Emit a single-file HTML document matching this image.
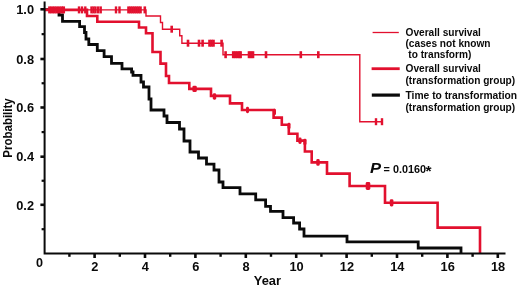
<!DOCTYPE html>
<html><head><meta charset="utf-8"><title>Survival plot</title>
<style>
html,body{margin:0;padding:0;background:#fff;}
body{width:520px;height:291px;overflow:hidden;}
svg{display:block;filter:blur(0.4px);}
svg text{font-family:"Liberation Sans",sans-serif;font-weight:bold;fill:#0a0a0a;}
</style></head>
<body>
<svg width="520" height="291" viewBox="0 0 520 291">
<rect width="520" height="291" fill="#fff"/>
<g>
<polyline points="44.6,9.6 59,9.6 59,15 62.5,15 62.5,21.4 79.6,21.4 79.6,26.6 84.5,26.6 84.5,32.5 86,32.5 86,39 88.8,39 88.8,44.5 97.3,44.5 97.3,50.6 104.1,50.6 104.1,56.7 111.5,56.7 111.5,63.3 122,63.3 122,68.8 131.6,68.8 131.6,72 133,72 133,75.3 141,75.3 141,82 143.5,82 143.5,87 149,87 149,99 151,99 151,110 164,110 164,116 167,116 167,122.5 179.5,122.5 179.5,129 184,129 184,141 190,141 190,152 198.5,152 198.5,158 206.5,158 206.5,164.2 214,164.2 214,170 219,170 219,182 223,182 223,187.6 240,187.6 240,193.9 255.7,193.9 255.7,199.9 265.6,199.9 265.6,206.4 270.5,206.4 270.5,211.4 283,211.4 283,217.6 293.6,217.6 293.6,223 299.6,223 299.6,229 304,229 304,236.2 347,236.2 347,241.8 418.2,241.8 418.2,248 461,248 461,253.4" fill="none" stroke="#0a0a0a" stroke-width="2.8" stroke-linejoin="miter"/>
<polyline points="44.6,9.9 146,9.9 146,16 160.5,16 160.5,22.5 162.5,22.5 162.5,29.2 179.7,29.2 179.7,35.8 181.9,35.8 181.9,43.2 223,43.2 223,54.7 359.8,54.7 359.8,121.7 383,121.7" fill="none" stroke="#e2102e" stroke-width="1.4"/>
<rect x="48.15" y="6.4" width="2.9" height="7" fill="#e2102e"/>
<rect x="50.55" y="6.4" width="2.9" height="7" fill="#e2102e"/>
<rect x="52.95" y="6.4" width="2.9" height="7" fill="#e2102e"/>
<rect x="55.35" y="6.4" width="2.9" height="7" fill="#e2102e"/>
<rect x="57.75" y="6.4" width="2.9" height="7" fill="#e2102e"/>
<rect x="60.15" y="6.4" width="2.9" height="7" fill="#e2102e"/>
<rect x="62.15" y="6.4" width="2.9" height="7" fill="#e2102e"/>
<rect x="77.8" y="6.4" width="2.4" height="7" fill="#e2102e"/>
<rect x="80.8" y="6.4" width="2.4" height="7" fill="#e2102e"/>
<rect x="84.1" y="6.4" width="2.4" height="7" fill="#e2102e"/>
<rect x="90.3" y="6.4" width="2.4" height="7" fill="#e2102e"/>
<rect x="92.3" y="6.4" width="2.4" height="7" fill="#e2102e"/>
<rect x="94.3" y="6.4" width="2.4" height="7" fill="#e2102e"/>
<rect x="97" y="6.4" width="2.4" height="7" fill="#e2102e"/>
<rect x="99.5" y="6.4" width="2.4" height="7" fill="#e2102e"/>
<rect x="114.8" y="6.4" width="2.4" height="7" fill="#e2102e"/>
<rect x="118.3" y="6.4" width="2.4" height="7" fill="#e2102e"/>
<rect x="127.2" y="6.4" width="2.6" height="7" fill="#e2102e"/>
<rect x="129.2" y="6.4" width="2.6" height="7" fill="#e2102e"/>
<rect x="131.2" y="6.4" width="2.6" height="7" fill="#e2102e"/>
<rect x="133.2" y="6.4" width="2.6" height="7" fill="#e2102e"/>
<rect x="135.2" y="6.4" width="2.6" height="7" fill="#e2102e"/>
<rect x="137.2" y="6.4" width="2.6" height="7" fill="#e2102e"/>
<rect x="139.2" y="6.4" width="2.6" height="7" fill="#e2102e"/>
<rect x="143.5" y="6.4" width="2.6" height="7" fill="#e2102e"/>
<rect x="170.4" y="25.7" width="2.6" height="7" fill="#e2102e"/>
<rect x="186.7" y="39.7" width="2.6" height="7" fill="#e2102e"/>
<rect x="197.7" y="39.7" width="2.6" height="7" fill="#e2102e"/>
<rect x="201.3" y="39.7" width="2.6" height="7" fill="#e2102e"/>
<rect x="208.2" y="39.7" width="2.6" height="7" fill="#e2102e"/>
<rect x="210.2" y="39.7" width="2.6" height="7" fill="#e2102e"/>
<rect x="212.2" y="39.7" width="2.6" height="7" fill="#e2102e"/>
<rect x="220.3" y="39.7" width="2.6" height="7" fill="#e2102e"/>
<rect x="224.3" y="51.2" width="2.6" height="7" fill="#e2102e"/>
<rect x="231.9" y="51.2" width="2.6" height="7" fill="#e2102e"/>
<rect x="233.9" y="51.2" width="2.6" height="7" fill="#e2102e"/>
<rect x="235.9" y="51.2" width="2.6" height="7" fill="#e2102e"/>
<rect x="237.9" y="51.2" width="2.6" height="7" fill="#e2102e"/>
<rect x="239.3" y="51.2" width="2.6" height="7" fill="#e2102e"/>
<rect x="247.7" y="51.2" width="2.6" height="7" fill="#e2102e"/>
<rect x="249.7" y="51.2" width="2.6" height="7" fill="#e2102e"/>
<rect x="251.7" y="51.2" width="2.6" height="7" fill="#e2102e"/>
<rect x="264.7" y="51.2" width="2.6" height="7" fill="#e2102e"/>
<rect x="299.5" y="51.2" width="2.6" height="7" fill="#e2102e"/>
<rect x="317" y="51.2" width="2.6" height="7" fill="#e2102e"/>
<rect x="374.8" y="118.2" width="2.4" height="7" fill="#e2102e"/>
<rect x="380.8" y="118.2" width="2.4" height="7" fill="#e2102e"/>
<polyline points="44.6,9.9 87,9.9 87,16 97.3,16 97.3,21.8 139,21.8 139,27.5 146,27.5 146,33.3 152.5,33.3 152.5,52 160.5,52 160.5,63.6 166,63.6 166,76 169,76 169,83 189.3,83 189.3,88.9 211,88.9 211,95.9 230,95.9 230,103.4 242,103.4 242,110 273.6,110 273.6,117.6 281.8,117.6 281.8,124.7 288.8,124.7 288.8,133.7 297.4,133.7 297.4,140.6 304.9,140.6 304.9,151.5 311.7,151.5 311.7,162.4 327,162.4 327,173.6 349.6,173.6 349.6,186 385,186 385,202.8 437.6,202.8 437.6,227.6 480,227.6 480,253.4" fill="none" stroke="#e2102e" stroke-width="2.6" stroke-linejoin="miter"/>
<rect x="192.4" y="85.7" width="4.4" height="6.4" rx="1.4" fill="#e2102e"/>
<rect x="212.8" y="93.3" width="3.4" height="6.4" rx="1.4" fill="#e2102e"/>
<rect x="246" y="106.8" width="3" height="6.4" rx="1.4" fill="#e2102e"/>
<rect x="273" y="108.8" width="3" height="6.4" rx="1.4" fill="#e2102e"/>
<rect x="287.5" y="122.8" width="3" height="6.4" rx="1.4" fill="#e2102e"/>
<rect x="298.4" y="137.6" width="3.2" height="6.4" rx="1.4" fill="#e2102e"/>
<rect x="303.3" y="138.8" width="3.2" height="6.4" rx="1.4" fill="#e2102e"/>
<rect x="316.3" y="159" width="3.4" height="6.8" rx="1.4" fill="#e2102e"/>
<rect x="365.7" y="182" width="4.6" height="8" rx="1.4" fill="#e2102e"/>
<rect x="389.8" y="199.2" width="3.6" height="7.2" rx="1.4" fill="#e2102e"/>
<path d="M44.6,1.5 V253.6 H505.5" fill="none" stroke="#0a0a0a" stroke-width="2"/>
<path d="M41.6,229.2 H44.6" stroke="#0a0a0a" stroke-width="2.2"/>
<path d="M40.4,204.8 H44.6" stroke="#0a0a0a" stroke-width="2.6"/>
<path d="M41.6,180.75 H44.6" stroke="#0a0a0a" stroke-width="2.2"/>
<path d="M40.4,156.7 H44.6" stroke="#0a0a0a" stroke-width="2.6"/>
<path d="M41.6,132.1 H44.6" stroke="#0a0a0a" stroke-width="2.2"/>
<path d="M40.4,107.5 H44.6" stroke="#0a0a0a" stroke-width="2.6"/>
<path d="M41.6,83.25 H44.6" stroke="#0a0a0a" stroke-width="2.2"/>
<path d="M40.4,59 H44.6" stroke="#0a0a0a" stroke-width="2.6"/>
<path d="M41.6,34.15 H44.6" stroke="#0a0a0a" stroke-width="2.2"/>
<path d="M40.4,9.3 H44.6" stroke="#0a0a0a" stroke-width="2.6"/>
<path d="M69.4,253.6 V256.8" stroke="#0a0a0a" stroke-width="2.4"/>
<path d="M94.6,253.6 V258" stroke="#0a0a0a" stroke-width="2.6"/>
<path d="M119.8,253.6 V256.8" stroke="#0a0a0a" stroke-width="2.4"/>
<path d="M145,253.6 V258" stroke="#0a0a0a" stroke-width="2.6"/>
<path d="M170.2,253.6 V256.8" stroke="#0a0a0a" stroke-width="2.4"/>
<path d="M195.4,253.6 V258" stroke="#0a0a0a" stroke-width="2.6"/>
<path d="M220.6,253.6 V256.8" stroke="#0a0a0a" stroke-width="2.4"/>
<path d="M245.8,253.6 V258" stroke="#0a0a0a" stroke-width="2.6"/>
<path d="M271,253.6 V256.8" stroke="#0a0a0a" stroke-width="2.4"/>
<path d="M296.2,253.6 V258" stroke="#0a0a0a" stroke-width="2.6"/>
<path d="M321.4,253.6 V256.8" stroke="#0a0a0a" stroke-width="2.4"/>
<path d="M346.6,253.6 V258" stroke="#0a0a0a" stroke-width="2.6"/>
<path d="M371.8,253.6 V256.8" stroke="#0a0a0a" stroke-width="2.4"/>
<path d="M397,253.6 V258" stroke="#0a0a0a" stroke-width="2.6"/>
<path d="M422.2,253.6 V256.8" stroke="#0a0a0a" stroke-width="2.4"/>
<path d="M447.4,253.6 V258" stroke="#0a0a0a" stroke-width="2.6"/>
<path d="M472.6,253.6 V256.8" stroke="#0a0a0a" stroke-width="2.4"/>
<path d="M497.8,253.6 V258" stroke="#0a0a0a" stroke-width="2.6"/>
<path d="M372.6,32.5 H398.8" stroke="#e2102e" stroke-width="1.3"/>
<path d="M371.6,68.7 H399.7" stroke="#e2102e" stroke-width="2.8"/>
<path d="M371.8,95.1 H399.9" stroke="#0a0a0a" stroke-width="3.2"/>
</g>
<g>
<text x="34" y="14" text-anchor="end" font-size="12.8">1.0</text>
<text x="34" y="63.7" text-anchor="end" font-size="12.8">0.8</text>
<text x="34" y="112.2" text-anchor="end" font-size="12.8">0.6</text>
<text x="34" y="161.4" text-anchor="end" font-size="12.8">0.4</text>
<text x="34" y="209.5" text-anchor="end" font-size="12.8">0.2</text>
<text x="39.5" y="266.8" text-anchor="middle" font-size="12.6">0</text>
<text x="94.9" y="271.3" text-anchor="middle" font-size="12.8">2</text>
<text x="145.3" y="271.3" text-anchor="middle" font-size="12.8">4</text>
<text x="195.7" y="271.3" text-anchor="middle" font-size="12.8">6</text>
<text x="246.1" y="271.3" text-anchor="middle" font-size="12.8">8</text>
<text x="296.5" y="271.3" text-anchor="middle" font-size="12.8">10</text>
<text x="346.9" y="271.3" text-anchor="middle" font-size="12.8">12</text>
<text x="397.3" y="271.3" text-anchor="middle" font-size="12.8">14</text>
<text x="447.7" y="271.3" text-anchor="middle" font-size="12.8">16</text>
<text x="498.1" y="271.3" text-anchor="middle" font-size="12.8">18</text>
<text x="267.4" y="285" text-anchor="middle" font-size="12.9">Year</text>
<text transform="translate(11.5,157.7) rotate(-90) scale(0.872,1)" font-size="13.2">Probability</text>
<text x="405.5" y="35.6" font-size="10.15">Overall survival</text>
<text x="405.5" y="47.0" font-size="10.15">(cases not known</text>
<text x="405.5" y="58.2" font-size="10.15"> to transform)</text>
<text x="405.5" y="72.2" font-size="10.15">Overall survival</text>
<text x="405.5" y="83.7" font-size="10.15">(transformation group)</text>
<text x="405.5" y="98.9" font-size="10.28">Time to transformation</text>
<text x="405.5" y="110.6" font-size="10.15">(transformation group)</text>
<text transform="translate(369.9,172.7) scale(1.17,1)" font-size="14.2" font-style="italic">P</text>
<text transform="translate(383.6,172.9) scale(1.085,1.0)" font-size="10">= 0.0160</text>
<text x="425.4" y="176.2" font-size="15.5">*</text>
</g>
</svg>
</body></html>
